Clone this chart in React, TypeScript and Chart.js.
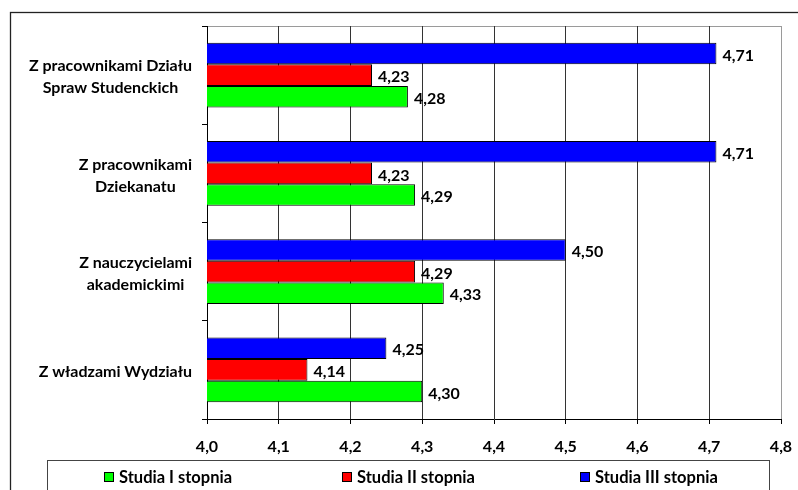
import React, { useEffect, useRef } from "react";
import { Chart, registerables } from "chart.js";

Chart.register(...registerables);

const categories: string[][] = [
  ["Z pracownikami Działu", "Spraw Studenckich"],
  ["Z pracownikami", "Dziekanatu"],
  ["Z nauczycielami", "akademickimi"],
  ["Z władzami Wydziału"],
];
const seriesNames = ["Studia I stopnia", "Studia II stopnia", "Studia III stopnia"];
const seriesColors = ["#00FF00", "#FF0000", "#0000FF"];
const studiaI = [4.28, 4.29, 4.33, 4.3];
const studiaII = [4.23, 4.23, 4.29, 4.14];
const studiaIII = [4.71, 4.71, 4.5, 4.25];
const xMin = 4.0;
const xMax = 4.8;
const xStep = 0.1;

const FONT = "Lato, 'Open Sans', sans-serif";
const fmt = (v: number, d: number) => v.toFixed(d).replace(".", ",");

const decorPlugin = {
  id: "decor",
  beforeDraw(chart: any) {
    const ctx = chart.ctx;
    const a = chart.chartArea;
    ctx.save();
    // outer frame
    ctx.strokeStyle = "#222";
    ctx.lineWidth = 1.3;
    ctx.strokeRect(10.5, 12.5, 820, 520);
    // plot area top/right border
    ctx.strokeStyle = "#9a9a9a";
    ctx.lineWidth = 1;
    ctx.beginPath();
    ctx.moveTo(a.left, Math.round(a.top) + 0.5);
    ctx.lineTo(Math.round(a.right) + 0.5, Math.round(a.top) + 0.5);
    ctx.lineTo(Math.round(a.right) + 0.5, a.bottom);
    ctx.stroke();
    ctx.restore();
  },
  afterDatasetsDraw(chart: any) {
    const ctx = chart.ctx;
    ctx.save();
    ctx.font = `bold 16px ${FONT}`;
    ctx.fillStyle = "#000";
    ctx.textAlign = "left";
    ctx.textBaseline = "middle";
    chart.data.datasets.forEach((ds: any, di: number) => {
      const meta = chart.getDatasetMeta(di);
      meta.data.forEach((el: any, i: number) => {
        ctx.fillText(fmt(ds.data[i], 2), el.x + 6, el.y + 2);
      });
    });
    ctx.restore();
  },
  afterDraw(chart: any) {
    const ctx = chart.ctx;
    const a = chart.chartArea;
    const y = chart.scales.y;
    ctx.save();
    // category labels: block right-aligned, lines centered within block
    ctx.font = `bold 16px ${FONT}`;
    ctx.fillStyle = "#000";
    ctx.textBaseline = "middle";
    ctx.textAlign = "center";
    const rightEdge = a.left - 15;
    (chart.data.labels as string[][]).forEach((lines, i) => {
      const cy = y.getPixelForTick(i) + 2;
      const w = Math.max(...lines.map((l) => ctx.measureText(l).width));
      const cx = rightEdge - w / 2;
      const lh = 22;
      lines.forEach((l, j) => {
        ctx.fillText(l, cx, cy + (j - (lines.length - 1) / 2) * lh);
      });
    });
    // legend box
    const lx = 47.5, ly = 460.5, lw = 722;
    ctx.strokeStyle = "#444";
    ctx.lineWidth = 1;
    ctx.strokeRect(lx, ly, lw, 100);
    const slot = lw / seriesNames.length;
    ctx.font = `bold 16.5px ${FONT}`;
    ctx.textAlign = "left";
    seriesNames.forEach((name, i) => {
      const tw = ctx.measureText(name).width;
      const itemW = 10 + 5 + tw;
      const sx = Math.round(lx + slot * i + slot / 2 - itemW / 2);
      ctx.fillStyle = seriesColors[i];
      ctx.fillRect(sx, 472, 10, 10);
      ctx.strokeStyle = "#000";
      ctx.strokeRect(sx + 0.5, 472.5, 9, 9);
      ctx.fillStyle = "#000";
      ctx.fillText(name, sx + 15, 477.5);
    });
    ctx.restore();
  },
};

export default function App() {
  const ref = useRef<HTMLCanvasElement>(null);
  useEffect(() => {
    if (!ref.current) return;
    const chart = new Chart(ref.current, {
      type: "bar",
      data: {
        labels: categories as any,
        datasets: [
          { label: seriesNames[2], data: studiaIII, backgroundColor: seriesColors[2] },
          { label: seriesNames[1], data: studiaII, backgroundColor: seriesColors[1] },
          { label: seriesNames[0], data: studiaI, backgroundColor: seriesColors[0] },
        ].map((d) => ({
          ...d,
          borderColor: "#000",
          borderWidth: 1,
          borderSkipped: false,
          categoryPercentage: 0.66,
          barPercentage: 1,
        })),
      },
      options: {
        indexAxis: "y",
        responsive: false,
        animation: false,
        devicePixelRatio: 1,
        layout: { padding: { top: 26, right: 17, bottom: 0, left: 0 } },
        plugins: { legend: { display: false }, tooltip: { enabled: false } },
        scales: {
          x: {
            type: "linear",
            min: xMin,
            max: xMax,
            border: { color: "#000", width: 1 },
            grid: {
              color: (c: any) => (Math.abs(c.tick.value - xMax) < 1e-6 ? "#9a9a9a" : "#333"),
              tickColor: "#000",
              tickLength: 5,
            },
            ticks: {
              stepSize: xStep,
              autoSkip: false,
              maxRotation: 0,
              padding: 13,
              color: "#000",
              font: { family: FONT, size: 16, weight: "bold" },
              callback: (v: any) => fmt(Number(v), 1),
            },
            afterFit: (s: any) => {
              s.height = 71;
              s.paddingLeft = 0;
              s.paddingRight = 0;
            },
          },
          y: {
            type: "category",
            border: { color: "#000", width: 1 },
            grid: { offset: true, drawOnChartArea: false, tickLength: 5, color: "#000" },
            ticks: { display: false },
            afterFit: (s: any) => {
              s.width = 207;
            },
          },
        },
      } as any,
      plugins: [decorPlugin],
    });
    return () => chart.destroy();
  }, []);
  return (
    <div style={{ position: "absolute", left: 0, top: 0, width: 798, height: 490, overflow: "hidden", background: "#fff" }}>
      <canvas ref={ref} width={798} height={490} style={{ display: "block" }} />
    </div>
  );
}
